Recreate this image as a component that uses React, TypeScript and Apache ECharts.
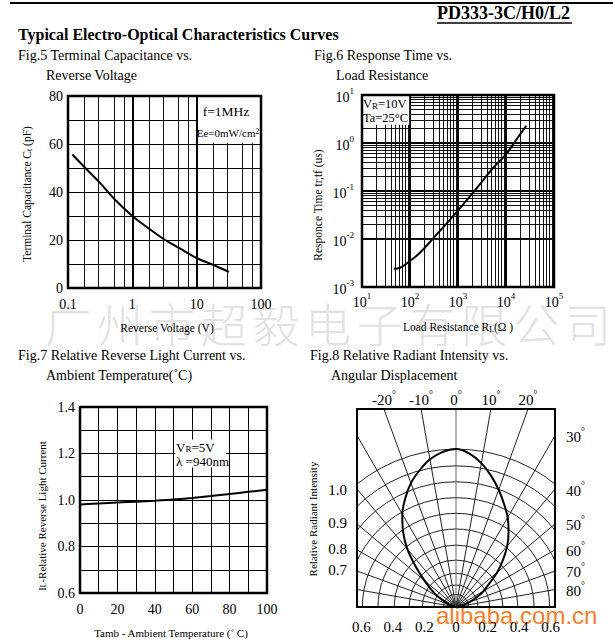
import React, { useEffect, useRef } from 'react';
import * as echarts from 'echarts';

const SERIF = '"Liberation Serif", "Times New Roman", Times, serif';
const SANS = '"Liberation Sans", Arial, sans-serif';
const CJK = '"Noto Sans CJK SC", sans-serif';

// ---------- Fig.5 Terminal Capacitance vs. Reverse Voltage ----------
const F5_VOLTAGE = [0.117, 0.178, 0.31, 0.53, 1, 1.8, 3.1, 5.3, 10, 17.9, 31.6];
const F5_CAPACITANCE = [55.6, 50.5, 44, 37, 30, 24.8, 20.3, 16.7, 12.5, 9.7, 6.7];
const F5_X_TICK_LABELS = ['0.1', '1', '10', '100'];
const F5_Y_TICK_LABELS = ['0', '20', '40', '60', '80'];
const F5_X_DECADES = [0.1, 1, 10];
const F5_X_MINOR_FACTORS = [1.8, 3, 5.2, 7.4];

// ---------- Fig.6 Response Time vs. Load Resistance ----------
const F6_RESISTANCE = [46, 61, 98, 159, 301, 968, 2826, 5358, 9840, 16400, 26500];
const F6_TIME = [0.0024, 0.00249, 0.00343, 0.0051, 0.0102, 0.0377, 0.136, 0.301, 0.57, 1.17, 2.29];
const F6_X_TICK_EXPONENTS = ['1', '2', '3', '4', '5'];
const F6_Y_TICK_EXPONENTS = ['-3', '-2', '-1', '0', '1'];
const F6_X_DECADES = [10, 100, 1000, 10000];
const F6_Y_DECADES = [0.001, 0.01, 0.1, 1];
const F6_MINOR_FACTORS = [2, 3, 4, 5, 6, 7, 8, 9];

// ---------- Fig.7 Relative Reverse Light Current vs. Ambient Temperature ----------
const F7_TEMPERATURE = [0, 10, 20, 30, 40, 50, 60, 70, 80, 90, 100];
const F7_CURRENT = [0.981, 0.985, 0.989, 0.993, 0.997, 1.002, 1.009, 1.017, 1.026, 1.035, 1.044];
const F7_X_TICK_LABELS = ['0', '20', '40', '60', '80', '100'];
const F7_Y_TICK_LABELS = ['0.6', '0.8', '1.0', '1.2', '1.4'];

// ---------- Fig.8 Relative Radiant Intensity vs. Angular Displacement ----------
const F8_ANGLES = [-90, -80, -70, -60, -55, -50, -45, -40, -35, -30, -25, -20, -15, -10, -5, 0,
  5, 10, 15, 20, 25, 30, 35, 40, 45, 50, 55, 60, 65, 70, 80, 90];
const F8_INTENSITY = [0, 0.012, 0.05, 0.13, 0.19, 0.26, 0.36, 0.48, 0.585, 0.68, 0.76, 0.835, 0.895, 0.95, 0.985, 1.0,
  0.975, 0.925, 0.86, 0.79, 0.72, 0.655, 0.58, 0.505, 0.42, 0.34, 0.255, 0.2, 0.145, 0.09, 0.025, 0];
const F8_ARC_RADII = [1.0, 0.894, 0.793, 0.692, 0.593, 0.494, 0.392, 0.297, 0.213, 0.139, 0.08, 0.034];
const F8_RAY_ANGLES = [-90, -80, -70, -60, -50, -40, -30, -20, -10, 0, 10, 20, 30, 40, 50, 60, 70, 80, 90];
const F8_TOP_ANGLES = [-20, -10, 0, 10, 20];
const F8_RIGHT_ANGLES = [30, 40, 50, 60, 70, 80];
const F8_BOTTOM_TICKS = [-0.6, -0.4, -0.2, 0, 0.2, 0.4, 0.6];
const F8_BOTTOM_LABELS = ['0.6', '0.4', '0.2', '0', '0.2', '0.4', '0.6'];
const F8_LEFT_LABELS = ['1.0', '0.9', '0.8', '0.7'];
const F8_LEFT_TICKS = [0.741, 0.532, 0.367, 0.234];
const F8_HALF_WIDTH = 0.627;
const F8_HEIGHT = 1.254;

const WATERMARK = '广州市超毅电子有限公司';

const rad = (d: number) => (d * Math.PI) / 180;
const nearestIndex = (arr: number[], v: number) => {
  let b = 0;
  arr.forEach((x, i) => {
    if (Math.abs(x - v) < Math.abs(arr[b] - v)) b = i;
  });
  return b;
};

function txt(x: number, y: number, t: string, size: number, extra: any = {}) {
  const { align = 'left', rotation = 0, weight = 'normal', family = SERIF, fill = '#000', rich, z = 20, opacity = 1 } = extra;
  return {
    type: 'text',
    x,
    y,
    rotation,
    z,
    silent: true,
    style: {
      text: t,
      fill,
      opacity,
      font: `${weight} ${size}px ${family}`,
      fontSize: size,
      fontFamily: family,
      fontWeight: weight,
      align,
      verticalAlign: 'middle',
      textAlign: align,
      textVerticalAlign: 'middle',
      rich,
    },
  };
}

const sub = (size: number) => ({ s: { fontSize: size, fontFamily: SERIF, fill: '#000', verticalAlign: 'bottom' } });
const sup = (size: number) => ({ s: { fontSize: size, fontFamily: SERIF, fill: '#000', verticalAlign: 'top' } });

function buildOption() {
  const black = '#000';
  const gridBase = {
    show: true,
    borderColor: black,
    backgroundColor: 'transparent',
    z: 10,
    containLabel: false,
    outerBoundsMode: 'none',
  };
  const noLineTick = { axisLine: { show: false }, axisTick: { show: false } };
  const lbl = { fontFamily: SERIF, color: black, fontSize: 14 };
  const markLineBase = {
    silent: true,
    z: 1,
    symbol: ['none', 'none'],
    label: { show: false },
    emphasis: { disabled: true },
    lineStyle: { color: '#111', width: 1, type: 'solid' },
  };
  const markAreaBase = {
    silent: true,
    z: 2,
    itemStyle: { color: '#fff' },
    label: { show: false },
    emphasis: { disabled: true },
  };

  const f5Minor = F5_X_DECADES.flatMap((d) => F5_X_MINOR_FACTORS.map((f) => ({ xAxis: d * f })));
  const f6MinorX = F6_X_DECADES.flatMap((d) => F6_MINOR_FACTORS.map((f) => ({ xAxis: d * f })));
  const f6MinorY = F6_Y_DECADES.flatMap((d) => F6_MINOR_FACTORS.map((f) => ({ yAxis: d * f })));

  const f6Rich = {
    b: { fontSize: 14, fontFamily: SERIF, color: black, lineHeight: 18, verticalAlign: 'bottom' },
    e: { fontSize: 9, fontFamily: SERIF, color: black, lineHeight: 18, verticalAlign: 'top' },
  };
  const degRich = {
    n: { fontSize: 15, fontFamily: SERIF, color: black, lineHeight: 18, verticalAlign: 'bottom' },
    d: { fontSize: 10, fontFamily: SERIF, color: black, lineHeight: 18, verticalAlign: 'top' },
  };

  const topTickValues = F8_TOP_ANGLES.map((a) => F8_HEIGHT * Math.tan(rad(a)));
  const rightTickValues = F8_RIGHT_ANGLES.map((a) => F8_HALF_WIDTH / Math.tan(rad(a)));

  const graphics: any[] = [];
  // watermark
  WATERMARK.split('').forEach((ch, i) => {
    graphics.push(txt(68 + i * 52, 322, ch, 46, { align: 'center', family: CJK, fill: '#e2e2e2', z: -10, weight: 300 }));
  });
  graphics.push(txt(436, 615, 'alibaba.com.cn', 24, { family: SANS, fill: '#ff6a00', z: -5, opacity: 0.9 }));
  // header
  graphics.push({ type: 'line', z: 20, silent: true, shape: { x1: 10, y1: 3, x2: 613, y2: 3 }, style: { stroke: black, lineWidth: 2 } });
  graphics.push(txt(437, 13, 'PD333-3C/H0/L2', 18, { weight: 'bold' }));
  graphics.push({ type: 'line', z: 20, silent: true, shape: { x1: 437, y1: 23, x2: 572, y2: 23 }, style: { stroke: black, lineWidth: 1.5 } });
  graphics.push(txt(18, 34, 'Typical Electro-Optical Characteristics Curves', 16, { weight: 'bold' }));
  // figure titles
  graphics.push(txt(18, 55, 'Fig.5 Terminal Capacitance vs.', 14));
  graphics.push(txt(46, 75, 'Reverse Voltage', 14));
  graphics.push(txt(314, 55, 'Fig.6 Response Time vs.', 14));
  graphics.push(txt(336, 75, 'Load Resistance', 14));
  graphics.push(txt(18, 355, 'Fig.7 Relative Reverse Light Current vs.', 14));
  graphics.push(txt(46, 375, 'Ambient Temperature(˚C)', 14));
  graphics.push(txt(310, 355, 'Fig.8 Relative Radiant Intensity vs.', 14));
  graphics.push(txt(331, 375, 'Angular Displacement', 14));
  // axis names
  graphics.push(txt(27, 194, 'Terminal Capacitance C{s|t} (pF)', 11.5, { align: 'center', rotation: Math.PI / 2, rich: sub(8) }));
  graphics.push(txt(167, 328, 'Reverse Voltage (V)', 11.5, { align: 'center' }));
  graphics.push(txt(318, 205, 'Responce Time tr,tf (us)', 11.5, { align: 'center', rotation: Math.PI / 2 }));
  graphics.push(txt(458, 327, 'Load Resistance R{s|L}(Ω )', 11.5, { align: 'center', rich: sub(8) }));
  graphics.push(txt(42, 516, 'I{s|L}-Relative Reverse Light Current', 11, { align: 'center', rotation: Math.PI / 2, rich: sub(7.5) }));
  graphics.push(txt(171, 633, 'Tamb - Ambient Temperature (˚ C)', 11, { align: 'center' }));
  graphics.push(txt(313, 519, 'Relative Radiant Intensity', 11, { align: 'center', rotation: Math.PI / 2 }));
  // insets
  graphics.push(txt(226, 111, 'f=1MHz', 13.5, { align: 'center' }));
  graphics.push(txt(228, 133, 'Ee=0mW/cm{s|2}', 11, { align: 'center', rich: sup(7.5) }));
  graphics.push(txt(363, 104, 'V{s|R}=10V', 12.5, { rich: sub(9) }));
  graphics.push(txt(363, 118, 'Ta=25°C', 12.5));
  graphics.push(txt(176, 447, 'V{s|R}=5V', 13, { rich: sub(9) }));
  graphics.push(txt(176, 461, 'λ =940nm', 13));

  return {
    animation: false,
    backgroundColor: '#fff',
    textStyle: { fontFamily: SERIF },
    grid: [
      { ...gridBase, left: 68, top: 96, width: 193, height: 192, borderWidth: 2.5 },
      { ...gridBase, left: 362, top: 95, width: 192, height: 192, borderWidth: 2.5 },
      { ...gridBase, left: 80, top: 407, width: 187, height: 186, borderWidth: 2.5 },
      { ...gridBase, left: 357, top: 409, width: 198, height: 198, borderWidth: 2 },
    ],
    xAxis: [
      {
        gridIndex: 0, type: 'log', logBase: 10, min: 0.1, max: 100, ...noLineTick,
        splitLine: { show: true, lineStyle: { color: black, width: 2 } },
        axisLabel: { ...lbl, margin: 9, formatter: (v: number) => F5_X_TICK_LABELS[Math.round(Math.log10(v)) + 1] },
      },
      {
        gridIndex: 1, type: 'log', logBase: 10, min: 10, max: 100000, ...noLineTick,
        splitLine: { show: true, lineStyle: { color: black, width: 2 } },
        axisLabel: {
          margin: 4, rich: f6Rich,
          formatter: (v: number) => `{b|10}{e|${F6_X_TICK_EXPONENTS[Math.round(Math.log10(v)) - 1]}}`,
        },
      },
      {
        gridIndex: 2, type: 'value', min: 0, max: 100, interval: 10, ...noLineTick,
        splitLine: { show: true, lineStyle: { color: black, width: 1 } },
        axisLabel: {
          ...lbl, margin: 9,
          formatter: (v: number) => {
            const i = Math.round(v / 10);
            return i % 2 === 0 ? F7_X_TICK_LABELS[i / 2] : '';
          },
        },
      },
      {
        gridIndex: 3, type: 'value', min: -F8_HALF_WIDTH, max: F8_HALF_WIDTH, ...noLineTick,
        splitLine: { show: false },
        axisLabel: {
          ...lbl, fontSize: 15, margin: 12, customValues: F8_BOTTOM_TICKS,
          formatter: (v: number) => F8_BOTTOM_LABELS[nearestIndex(F8_BOTTOM_TICKS, v)],
        },
      },
      {
        gridIndex: 3, type: 'value', position: 'top', min: -F8_HALF_WIDTH, max: F8_HALF_WIDTH, ...noLineTick,
        splitLine: { show: false },
        axisLabel: {
          margin: 2, rich: degRich, customValues: topTickValues,
          formatter: (v: number) => `{n|${F8_TOP_ANGLES[nearestIndex(topTickValues, v)]}}{d|°}`,
        },
      },
    ],
    yAxis: [
      {
        gridIndex: 0, type: 'value', min: 0, max: 80, interval: 10, ...noLineTick,
        splitLine: { show: true, lineStyle: { color: black, width: 1.2 } },
        axisLabel: {
          ...lbl, margin: 5,
          formatter: (v: number) => {
            const i = Math.round(v / 10);
            return i % 2 === 0 ? F5_Y_TICK_LABELS[i / 2] : '';
          },
        },
      },
      {
        gridIndex: 1, type: 'log', logBase: 10, min: 0.001, max: 10, ...noLineTick,
        splitLine: { show: true, lineStyle: { color: black, width: 2 } },
        axisLabel: {
          margin: 8, rich: f6Rich,
          formatter: (v: number) => `{b|10}{e|${F6_Y_TICK_EXPONENTS[Math.round(Math.log10(v)) + 3]}}`,
        },
      },
      {
        gridIndex: 2, type: 'value', min: 0.6, max: 1.4, interval: 0.1, ...noLineTick,
        splitLine: { show: true, lineStyle: { color: black, width: 1 } },
        axisLabel: {
          ...lbl, margin: 5,
          formatter: (v: number) => {
            const i = Math.round((v - 0.6) / 0.1);
            return i % 2 === 0 ? F7_Y_TICK_LABELS[i / 2] : '';
          },
        },
      },
      {
        gridIndex: 3, type: 'value', min: 0, max: F8_HEIGHT, ...noLineTick,
        splitLine: { show: false },
        axisLabel: {
          ...lbl, fontSize: 15, margin: 10, customValues: F8_LEFT_TICKS,
          formatter: (v: number) => F8_LEFT_LABELS[nearestIndex(F8_LEFT_TICKS, v)],
        },
      },
      {
        gridIndex: 3, type: 'value', position: 'right', min: 0, max: F8_HEIGHT, ...noLineTick,
        splitLine: { show: false },
        axisLabel: {
          margin: 11, rich: degRich, customValues: rightTickValues,
          formatter: (v: number) => `{n|${F8_RIGHT_ANGLES[nearestIndex(rightTickValues, v)]}}{d|°}`,
        },
      },
    ],
    series: [
      {
        type: 'line', xAxisIndex: 0, yAxisIndex: 0, z: 5, silent: true, smooth: 0.4, symbol: 'none',
        lineStyle: { color: black, width: 2 },
        data: F5_VOLTAGE.map((v, i) => [v, F5_CAPACITANCE[i]]),
        markLine: { ...markLineBase, data: f5Minor },
        markArea: { ...markAreaBase, data: [[{ xAxis: 10.5, yAxis: 60.5 }, { xAxis: 100, yAxis: 80 }]] },
      },
      {
        type: 'line', xAxisIndex: 1, yAxisIndex: 1, z: 5, silent: true, smooth: 0.4, symbol: 'none',
        lineStyle: { color: black, width: 2 },
        data: F6_RESISTANCE.map((v, i) => [v, F6_TIME[i]]),
        markLine: { ...markLineBase, data: [...f6MinorX, ...f6MinorY] },
        markArea: { ...markAreaBase, data: [[{ xAxis: 10, yAxis: 2.4 }, { xAxis: 96, yAxis: 10 }]] },
      },
      {
        type: 'line', xAxisIndex: 2, yAxisIndex: 2, z: 5, silent: true, smooth: 0.4, symbol: 'none',
        lineStyle: { color: black, width: 2 },
        data: F7_TEMPERATURE.map((v, i) => [v, F7_CURRENT[i]]),
        markArea: { ...markAreaBase, data: [[{ xAxis: 51, yAxis: 1.14 }, { xAxis: 78, yAxis: 1.26 }]] },
      },
      {
        type: 'custom', xAxisIndex: 3, yAxisIndex: 3, z: 3, silent: true, clip: true,
        data: F8_ARC_RADII.map((r) => [r, 0]),
        renderItem: (params: any, api: any) => {
          const r = api.value(0);
          const o = api.coord([0, 0]);
          const e = api.coord([r, 0]);
          return {
            type: 'arc',
            shape: { cx: o[0], cy: o[1], r: e[0] - o[0], startAngle: Math.PI, endAngle: 2 * Math.PI, clockwise: true },
            style: { stroke: '#222', lineWidth: 1, fill: 'none' },
          };
        },
      },
      {
        type: 'custom', xAxisIndex: 3, yAxisIndex: 3, z: 3, silent: true, clip: true,
        data: F8_RAY_ANGLES.map((a) => [a, 0]),
        renderItem: (params: any, api: any) => {
          const a = rad(api.value(0));
          const o = api.coord([0, 0]);
          const e = api.coord([2 * Math.sin(a), 2 * Math.cos(a)]);
          return {
            type: 'line',
            shape: { x1: o[0], y1: o[1], x2: e[0], y2: e[1] },
            style: { stroke: a === 0 ? '#666' : '#222', lineWidth: 1 },
          };
        },
      },
      {
        type: 'line', xAxisIndex: 3, yAxisIndex: 3, z: 5, silent: true, smooth: 0.3, symbol: 'none',
        lineStyle: { color: black, width: 2 },
        data: F8_ANGLES.map((a, i) => [F8_INTENSITY[i] * Math.sin(rad(a)), F8_INTENSITY[i] * Math.cos(rad(a))]),
      },
    ],
    graphic: { elements: graphics },
  };
}

export default function App() {
  const ref = useRef<HTMLDivElement>(null);
  useEffect(() => {
    if (!ref.current) return;
    const chart = echarts.init(ref.current, null, { renderer: 'svg' });
    chart.setOption(buildOption() as any);
    return () => chart.dispose();
  }, []);
  return (
    <div
      ref={ref}
      style={{ position: 'absolute', left: 0, top: 0, width: 613, height: 643, background: '#fff' }}
    />
  );
}
